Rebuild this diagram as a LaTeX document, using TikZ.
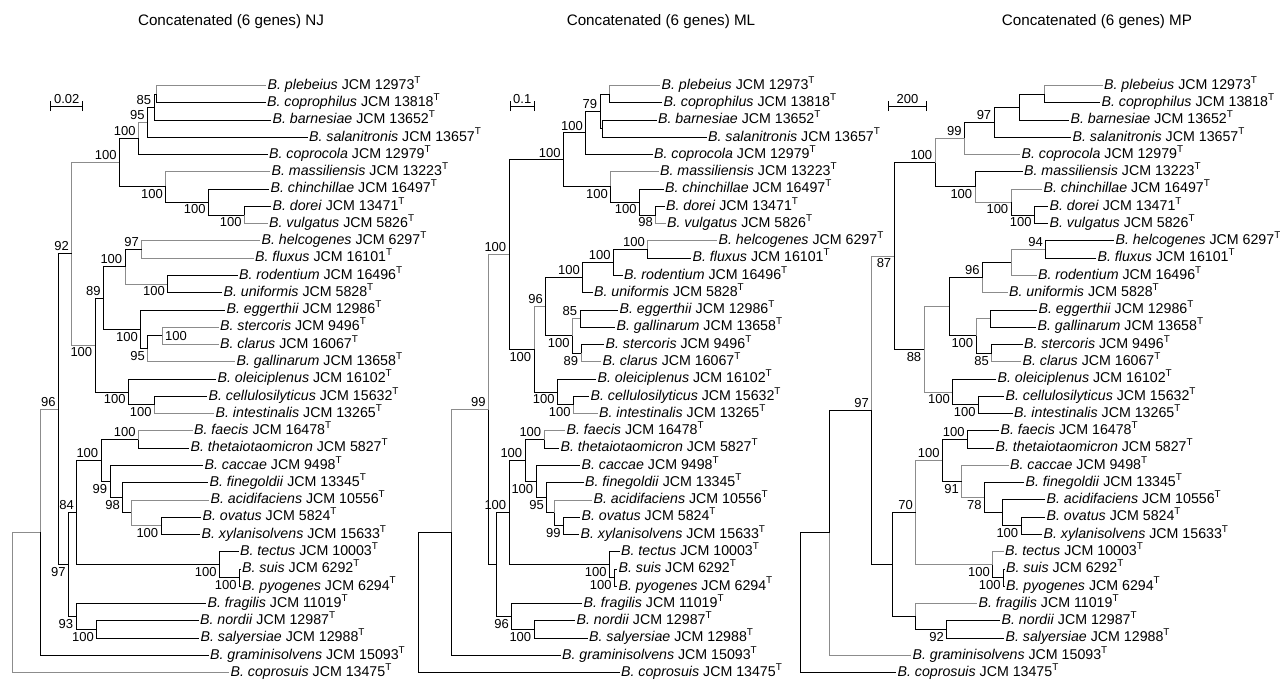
\documentclass[tikz,border=0pt]{standalone}
\usepackage{fontspec}
\setmainfont{Liberation Sans}
\newcommand{\bsp}[2]{\textit{B.~#1} JCM #2\textsuperscript{T}}
\newcommand{\leaffont}{\fontsize{7.1pt}{8pt}\selectfont}
\newcommand{\bsfont}{\fontsize{6.5pt}{7pt}\selectfont}
\newcommand{\titlefont}{\fontsize{7.6pt}{9pt}\selectfont}

\begin{document}
\begin{tikzpicture}[x=0.5pt,y=-8.635pt,
  br/.style={line width=0.5pt},
  gbr/.style={line width=0.45pt,black!45},
  leaf/.style={anchor=west,inner xsep=0.6pt,inner ysep=0pt,text height=4.4pt,text depth=0.7pt,font=\leaffont},
  bsa/.style={anchor=south east,inner sep=1.2pt,font=\bsfont},
  bsb/.style={anchor=north east,inner sep=1.2pt,font=\bsfont},
  bsr/.style={anchor=west,inner sep=1.2pt,font=\bsfont},
  sbar/.style={line width=0.5pt},
  ttl/.style={font=\titlefont}]
\path[use as bounding box] (0,-3.9508) rectangle (1280,35.4821);

\node[ttl] (nj-t) at (231,-2.677) {Concatenated (6 genes) NJ};
\node[ttl] (ml-t) at (661,-2.677) {Concatenated (6 genes) ML};
\node[ttl] (mp-t) at (1097,-2.677) {Concatenated (6 genes) MP};

\coordinate (nj-s1) at (50.7,2.2);
\coordinate (nj-s2) at (82.7,2.2);
\coordinate (ml-s1) at (510,2.2);
\coordinate (ml-s2) at (534.3,2.2);
\coordinate (mp-s1) at (888.3,2.2);
\coordinate (mp-s2) at (926.7,2.2);
\foreach \t/\v/\m in {nj/0.02/66.7,ml/0.1/522.2,mp/200/907.5}{
  \draw[sbar] (\t-s1) -- (\t-s2);
  \draw[sbar] ([yshift=-2.5pt]\t-s1) -- ([yshift=2.5pt]\t-s1);
  \draw[sbar] ([yshift=-2.5pt]\t-s2) -- ([yshift=2.5pt]\t-s2);
  \node[bsa,anchor=south] (\t-sl) at (\m,2.2) {\v};
}

\foreach \n/\sp/\id/\ra/\rb/\xa/\xb/\xc in {
  pleb/plebeius/12973/1/1/266/660/1102.5,
  cophil/coprophilus/13818/2/2/265.5/662/1100,
  barn/barnesiae/13652/3/3/271/656.5/1069,
  sala/salanitronis/13657/4/4/307.5/706.5/1071,
  cocola/coprocola/12979/5/5/267.5/652.5/1020,
  mass/massiliensis/13223/6/6/270/658.5/1022.5,
  chin/chinchillae/16497/7/7/269/663.5/1042,
  dorei/dorei/13471/8/8/271/664.5/1048,
  vulg/vulgatus/5826/9/9/267.5/665.5/1048,
  helc/helcogenes/6297/10/10/260/717/1114,
  flux/fluxus/16101/11/11/253.5/691/1096,
  rod/rodentium/16496/12/12/237.5/622.5/1036.5,
  uni/uniformis/5828/13/13/222/592.5/1007.5,
  egg/eggerthii/12986/14/14/225/618/1037,
  ster/stercoris/9496/15/16/218.5/604/1022.5,
  clar/clarus/16067/16/17/218.5/601/1021,
  gall/gallinarum/13658/17/15/235/615/1036,
  olei/oleiciplenus/16102/18/18/216/596/996,
  cell/cellulosilyticus/15632/19/19/207/589/1004,
  intest/intestinalis/13265/20/20/214/597.5/1012.5,
  faec/faecis/16478/21/21/192.5/565/999,
  theta/thetaiotaomicron/5827/22/22/189/559/994,
  cacc/caccae/9498/23/23/203/580/1008.5,
  fine/finegoldii/13345/24/24/208/583.5/1024,
  acid/acidifaciens/10556/25/25/209/592/1045,
  ovat/ovatus/5824/26/26/201/580/1045,
  xyl/xylanisolvens/15633/27/27/200/579/1042,
  tect/tectus/10003/28/28/238.5/619.5/1003.5,
  suis/suis/6292/29/29/240.5/617/1004.5,
  pyog/pyogenes/6294/30/30/240.5/617/1004.5,
  frag/fragilis/11019/31/31/206/582/977,
  nord/nordii/12987/32/32/198.5/575/1000,
  saly/salyersiae/12988/33/33/199/587.5/1004,
  gram/graminisolvens/15093/34/34/208.5/560.5/911,
  copros/coprosuis/13475/35/35/229/619.5/896}{
  \node[leaf] (nj-\n) at (\xa,\ra) {\bsp{\sp}{\id}};
  \node[leaf] (ml-\n) at (\xb,\rb) {\bsp{\sp}{\id}};
  \node[leaf] (mp-\n) at (\xc,\rb) {\bsp{\sp}{\id}};
}

% NJ
\foreach \n/\x/\r in {1/156.7/1.5, 2/154/2.25, 3/147.3/3.125, 4/138.3/4.0625,
  5/244.3/8.5, 6/208.3/7.75, 7/165.7/6.875, 8/119.3/5.46875, 9/141.7/10.5,
  10/167.7/12.5, 11/125/11.5, 12/162.3/15.5, 13/147.7/16.25, 14/140.7/15.125,
  15/103.3/13.3125, 16/154.3/19.5, 17/128.3/18.75, 18/95/16.03125, 19/71.7/10.75,
  20/138.3/21.5, 21/161/26.5, 22/131/25.75, 23/122.7/24.875, 24/110/23.9375,
  25/101/22.71875, 26/239.3/29.5, 27/219.3/28.75, 28/76.7/25.734375, 29/96.7/32.5,
  30/76/31.75, 31/68.3/28.7421875, 32/58.3/19.74609, 33/40.7/26.87305, 34/12.3/30.93652}
  \coordinate (nj\n) at (\x,\r);
\foreach \p/\c in {nj1/nj-pleb, nj4/nj3, nj5/nj-vulg, nj7/nj-mass, nj9/nj-helc, nj9/nj-flux,
  nj11/nj10, nj12/nj-ster, nj12/nj-clar, nj13/nj-gall, nj16/nj-intest, nj19/nj8, nj19/nj18,
  nj20/nj-faec, nj22/nj-acid, nj22/nj21, nj33/nj32, nj34/nj33, nj34/nj-copros}
  \draw[gbr] (\p) |- (\c);
\foreach \p/\c in {nj1/nj-cophil, nj2/nj1, nj2/nj-barn, nj3/nj2, nj3/nj-sala, nj4/nj-cocola,
  nj5/nj-dorei, nj6/nj-chin, nj6/nj5, nj7/nj6, nj8/nj4, nj8/nj7, nj10/nj-rod, nj10/nj-uni,
  nj11/nj9, nj13/nj12, nj14/nj-egg, nj14/nj13, nj15/nj11, nj15/nj14, nj16/nj-cell,
  nj17/nj-olei, nj17/nj16, nj18/nj15, nj18/nj17, nj20/nj-theta, nj21/nj-ovat, nj21/nj-xyl,
  nj23/nj-fine, nj23/nj22, nj24/nj-cacc, nj24/nj23, nj25/nj20, nj25/nj24, nj26/nj-suis,
  nj26/nj-pyog, nj27/nj-tect, nj27/nj26, nj28/nj25, nj28/nj27, nj29/nj-nord, nj29/nj-saly,
  nj30/nj-frag, nj30/nj29, nj31/nj28, nj31/nj30, nj32/nj19, nj32/nj31, nj33/nj-gram}
  \draw[br] (\p) |- (\c);
\foreach \n/\v in {2/85, 3/95, 4/100, 8/100, 9/97, 11/100, 15/89, 19/92, 20/100, 25/100, 28/84, 32/96}
  \node[bsa] (nj\n-bs) at (nj\n) {\v};
\foreach \n/\v in {5/100, 6/100, 7/100, 10/100, 13/95, 14/100, 16/100, 17/100, 18/100, 21/100,
  23/98, 24/99, 26/100, 27/100, 29/100, 30/93, 31/97}
  \node[bsb] (nj\n-bs) at (nj\n) {\v};
\node[bsr] (nj12-bs) at (nj12) {100};

% ML
\foreach \n/\x/\r in {1/609/1.5, 2/602.7/3.5, 3/600/2.5, 4/585.7/3.75, 5/655.7/8.5,
  6/639.3/7.75, 7/610.7/6.875, 8/563.3/5.3125, 9/647.7/10.5, 10/613.3/11.25,
  11/582.7/12.125, 12/580/14.5, 13/581/16.5, 14/572.3/15.5, 15/545.7/13.8125,
  16/573.3/19.5, 17/557.3/18.75, 18/534/16.28125, 19/509/10.796875, 20/544/21.5,
  21/563.3/26.5, 22/554.3/25.75, 23/546.7/24.875, 24/536/23.9375, 25/525/22.71875,
  26/614.3/29.5, 27/609.3/28.75, 28/509/25.734375, 29/534/32.5, 30/511.7/31.75,
  31/496/28.7421875, 32/488.3/19.76953, 33/451.7/26.88477, 34/418.3/30.94238}
  \coordinate (ml\n) at (\x,\r);
\foreach \p/\c in {ml1/ml-pleb, ml5/ml-vulg, ml7/ml-mass, ml9/ml-helc, ml13/ml-clar, ml14/ml12,
  ml16/ml-intest, ml18/ml15, ml20/ml-faec, ml22/ml-acid, ml32/ml19, ml33/ml32}
  \draw[gbr] (\p) |- (\c);
\foreach \p/\c in {ml1/ml-cophil, ml2/ml-barn, ml2/ml-sala, ml3/ml1, ml3/ml2, ml4/ml3,
  ml4/ml-cocola, ml5/ml-dorei, ml6/ml-chin, ml6/ml5, ml7/ml6, ml8/ml4, ml8/ml7, ml9/ml-flux,
  ml10/ml9, ml10/ml-rod, ml11/ml10, ml11/ml-uni, ml12/ml-egg, ml12/ml-gall, ml13/ml-ster,
  ml14/ml13, ml15/ml11, ml15/ml14, ml16/ml-cell, ml17/ml-olei, ml17/ml16, ml18/ml17,
  ml19/ml8, ml19/ml18, ml20/ml-theta, ml21/ml-ovat, ml21/ml-xyl, ml22/ml21, ml23/ml-fine,
  ml23/ml22, ml24/ml-cacc, ml24/ml23, ml25/ml20, ml25/ml24, ml26/ml-suis, ml26/ml-pyog,
  ml27/ml-tect, ml27/ml26, ml28/ml25, ml28/ml27, ml29/ml-nord, ml29/ml-saly, ml30/ml-frag,
  ml30/ml29, ml31/ml28, ml31/ml30, ml32/ml31, ml33/ml-gram, ml34/ml33, ml34/ml-copros}
  \draw[br] (\p) |- (\c);
\foreach \n/\v in {3/79, 4/100, 8/100, 9/100, 10/100, 11/100, 12/85, 15/96, 19/100, 20/100,
  25/100, 28/100, 32/99}
  \node[bsa] (ml\n-bs) at (ml\n) {\v};
\foreach \n/\v in {5/98, 6/100, 7/100, 13/89, 14/100, 16/100, 17/100, 18/100, 21/99, 23/95,
  24/100, 26/100, 27/100, 29/100, 30/96}
  \node[bsb] (ml\n-bs) at (ml\n) {\v};

% MP
\foreach \n/\x/\r in {1/1044/1.5, 2/1019.3/2.25, 3/994/3.125, 4/964.3/4.0625, 5/1034.3/8.5,
  6/1011/7.75, 7/975/6.875, 8/935/5.46875, 9/1045.7/10.5, 10/1011/11.25, 11/982.3/12.125,
  12/990.7/14.5, 13/991.7/16.5, 14/976/15.5, 15/949.3/13.8125, 16/978.3/19.5,
  17/952.7/18.75, 18/924/16.28125, 19/894/10.875, 20/967.3/21.5, 21/1021/26.5,
  22/1002.7/25.75, 23/984.3/24.875, 24/961.7/23.9375, 25/942.3/22.71875, 26/1003.3/29.5,
  27/992.7/28.75, 28/915.7/25.734375, 29/946.7/32.5, 30/915.7/31.75, 31/892.3/28.7421875,
  32/871.7/19.80859, 33/829.3/26.9043, 34/800/30.95215}
  \coordinate (mp\n) at (\x,\r);
\foreach \p/\c in {mp1/mp-pleb, mp8/mp4, mp4/mp-cocola, mp6/mp-chin, mp7/mp6, mp10/mp9,
  mp10/mp-rod, mp11/mp-uni, mp13/mp-clar, mp14/mp12, mp18/mp15, mp18/mp17, mp24/mp-cacc,
  mp24/mp23, mp27/mp-tect, mp28/mp25, mp28/mp27, mp30/mp-frag, mp32/mp19, mp33/mp-gram}
  \draw[gbr] (\p) |- (\c);
\foreach \p/\c in {mp1/mp-cophil, mp2/mp1, mp2/mp-barn, mp3/mp2, mp3/mp-sala, mp4/mp3,
  mp5/mp-dorei, mp5/mp-vulg, mp6/mp5, mp7/mp-mass, mp8/mp7, mp9/mp-helc, mp9/mp-flux,
  mp11/mp10, mp12/mp-egg, mp12/mp-gall, mp13/mp-ster, mp14/mp13, mp15/mp11, mp15/mp14,
  mp16/mp-cell, mp16/mp-intest, mp17/mp-olei, mp17/mp16, mp19/mp8, mp19/mp18, mp20/mp-faec,
  mp20/mp-theta, mp21/mp-ovat, mp21/mp-xyl, mp22/mp-acid, mp22/mp21, mp23/mp-fine,
  mp23/mp22, mp25/mp20, mp25/mp24, mp26/mp-suis, mp26/mp-pyog, mp27/mp26, mp29/mp-nord,
  mp29/mp-saly, mp30/mp29, mp31/mp28, mp31/mp30, mp32/mp31, mp33/mp32, mp34/mp33,
  mp34/mp-copros}
  \draw[br] (\p) |- (\c);
\foreach \n/\v in {3/97, 4/99, 8/100, 9/94, 11/96, 20/100, 25/100, 28/70, 32/97}
  \node[bsa] (mp\n-bs) at (mp\n) {\v};
\foreach \n/\v in {5/100, 6/100, 7/100, 13/85, 14/100, 16/100, 17/100, 18/88, 19/87,
  21/100, 23/78, 24/91, 26/100, 27/100, 29/92}
  \node[bsb] (mp\n-bs) at (mp\n) {\v};
\end{tikzpicture}
\end{document}
